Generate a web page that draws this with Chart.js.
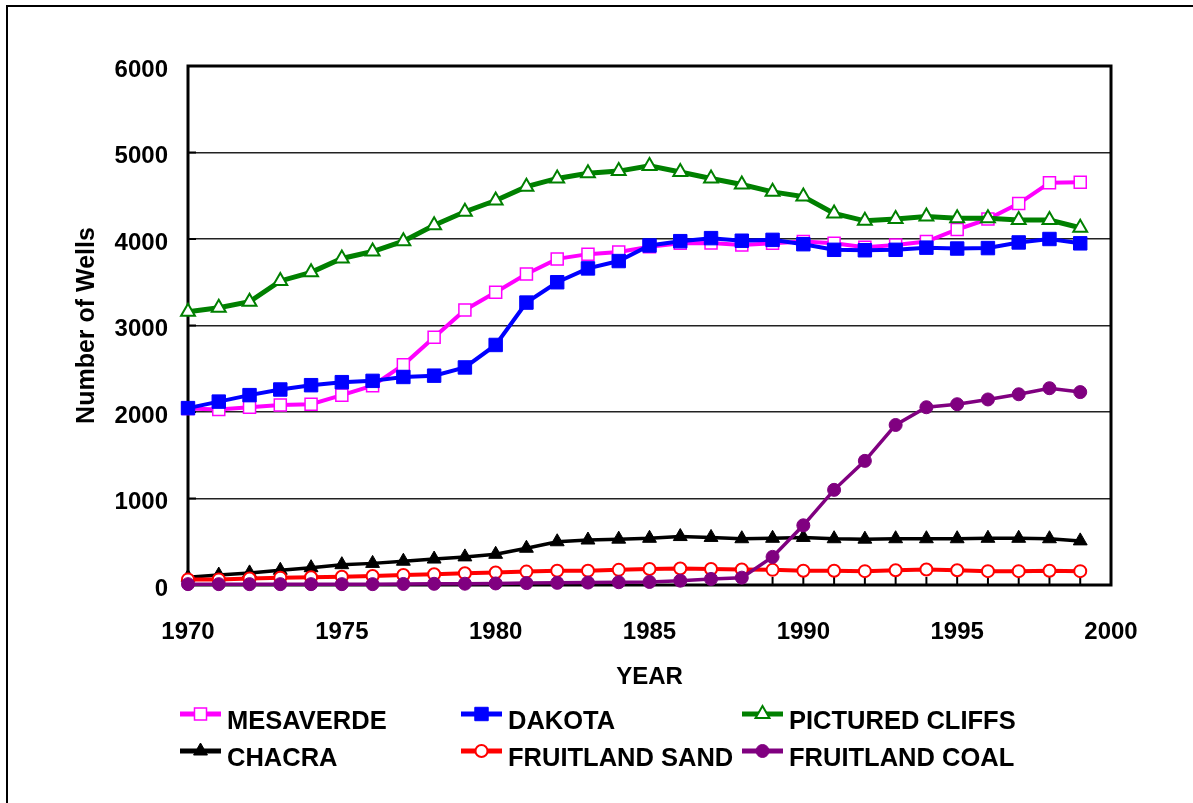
<!DOCTYPE html>
<html>
<head>
<meta charset="utf-8">
<title>Number of Wells by Formation</title>
<script src="https://cdn.jsdelivr.net/npm/chart.js@4.4.1/dist/chart.umd.min.js"></script>
<style>
  html, body { margin: 0; padding: 0; background: #fff; overflow: hidden; }
  canvas { display: block; }
</style>
</head>
<body>
<canvas id="wells-chart" width="1193" height="803"></canvas>
<script>
    // Years 1970 - 1999
    const years = [1970, 1971, 1972, 1973, 1974, 1975, 1976, 1977, 1978, 1979,
                   1980, 1981, 1982, 1983, 1984, 1985, 1986, 1987, 1988, 1989,
                   1990, 1991, 1992, 1993, 1994, 1995, 1996, 1997, 1998, 1999];

    const mesaverde = [2040, 2030, 2055, 2080, 2090, 2195, 2305, 2545, 2865, 3180,
                       3385, 3595, 3770, 3825, 3850, 3910, 3950, 3955, 3930, 3950,
                       3970, 3950, 3905, 3930, 3970, 4110, 4230, 4410, 4650, 4655];

    const dakota = [2045, 2120, 2195, 2260, 2310, 2345, 2360, 2405, 2420, 2515,
                    2775, 3265, 3500, 3660, 3745, 3925, 3975, 4010, 3980, 3990,
                    3940, 3875, 3870, 3875, 3900, 3890, 3895, 3960, 4000, 3950];

    const picturedCliffs = [3160, 3205, 3275, 3515, 3615, 3775, 3855, 3975, 4160, 4315,
                            4445, 4605, 4700, 4760, 4785, 4845, 4775, 4700, 4630, 4545,
                            4490, 4295, 4210, 4230, 4260, 4240, 4240, 4220, 4220, 4130];

    const chacra = [90, 115, 140, 170, 200, 235, 250, 275, 300, 325,
                    355, 425, 500, 520, 530, 540, 560, 550, 535, 540,
                    550, 535, 530, 535, 535, 535, 540, 540, 535, 510];

    const fruitlandSand = [65, 65, 75, 85, 90, 95, 105, 115, 125, 135,
                           145, 155, 165, 165, 175, 185, 190, 185, 180, 175,
                           165, 165, 160, 170, 180, 170, 160, 160, 165, 160];

    const fruitlandCoal = [10, 10, 10, 10, 10, 10, 10, 12, 14, 15,
                           18, 22, 25, 28, 32, 35, 50, 70, 85, 325,
                           690, 1100, 1435, 1850, 2055, 2090, 2145, 2205, 2275, 2230];

    const yTicks = [0, 1000, 2000, 3000, 4000, 5000, 6000];
    const xLabels = [1970, 1975, 1980, 1985, 1990, 1995, 2000];

    const FONT = "'Liberation Sans', Arial, sans-serif";

    function toXY(values) {
        return values.map(function(v, i) { return { x: years[i], y: v }; });
    }

    // legend positions [lineStart, textStart, row]
    const legendSlots = [
        [180, 227, 0], [461, 508, 0], [742, 789, 0],
        [180, 227, 1], [461, 508, 1], [742, 789, 1]
    ];

    const framePlugin = {
        id: 'frame',
        beforeDraw: function(chart) {
            const ctx = chart.ctx;
            ctx.save();
            ctx.fillStyle = '#fff';
            ctx.fillRect(0, 0, chart.width, chart.height);
            // outer chart border (left / top visible)
            ctx.strokeStyle = '#000';
            ctx.lineWidth = 2;
            ctx.strokeRect(7, 6, 1300, 900);
            ctx.restore();
        },
        beforeDatasetsDraw: function(chart) {
            const ctx = chart.ctx;
            const a = chart.chartArea;
            const xs = chart.scales.x;
            const ys = chart.scales.y;
            ctx.save();
            ctx.strokeStyle = '#000';
            // inside tick marks
            ctx.lineWidth = 2;
            years.concat([2000]).forEach(function(yr) {
                const px = xs.getPixelForValue(yr);
                ctx.beginPath();
                ctx.moveTo(px, a.bottom);
                ctx.lineTo(px, a.bottom - 8);
                ctx.stroke();
            });
            yTicks.forEach(function(v) {
                const py = ys.getPixelForValue(v);
                ctx.beginPath();
                ctx.moveTo(a.left, py);
                ctx.lineTo(a.left + 8, py);
                ctx.stroke();
            });
            // plot frame
            ctx.lineWidth = 3;
            ctx.strokeRect(a.left, a.top, a.right - a.left, a.bottom - a.top);
            ctx.restore();
        },
        afterDraw: function(chart) {
            const ctx = chart.ctx;
            const rowY = [714, 751];
            const textY = [722, 759];
            ctx.save();
            chart.data.datasets.forEach(function(ds, i) {
                const slot = legendSlots[i];
                const ly = rowY[slot[2]];
                ctx.strokeStyle = ds.borderColor;
                ctx.lineWidth = 5;
                ctx.beginPath();
                ctx.moveTo(slot[0], ly);
                ctx.lineTo(slot[0] + 41, ly);
                ctx.stroke();
                ctx.fillStyle = ds.pointBackgroundColor;
                ctx.strokeStyle = ds.pointBorderColor;
                ctx.lineWidth = ds.pointBorderWidth;
                Chart.helpers.drawPoint(ctx, {
                    pointStyle: ds.pointStyle,
                    radius: ds.pointRadius,
                    rotation: 0,
                    borderWidth: ds.pointBorderWidth
                }, slot[0] + 20.5, ly);
                ctx.fillStyle = '#000';
                ctx.font = 'bold 25.5px ' + FONT;
                ctx.textAlign = 'left';
                ctx.textBaseline = 'middle';
                ctx.fillText(ds.label, slot[1], textY[slot[2]]);
            });
            ctx.restore();
        }
    };

    function series(label, values, color, style, radius, fill, lineWidth, pbw, order) {
        return {
            label: label,
            data: toXY(values),
            borderColor: color,
            backgroundColor: color,
            borderWidth: lineWidth,
            pointStyle: style,
            pointRadius: radius,
            pointHoverRadius: radius,
            pointBackgroundColor: fill,
            pointBorderColor: color,
            pointBorderWidth: pbw,
            tension: 0,
            clip: false,
            order: order
        };
    }

    const ctx = document.getElementById('wells-chart').getContext('2d');

    new Chart(ctx, {
        type: 'line',
        data: {
            datasets: [
                series('MESAVERDE', mesaverde, '#FF00FF', 'rect', 8.5, '#FFFFFF', 4, 1.5, 6),
                series('DAKOTA', dakota, '#0000FF', 'rect', 9.5, '#0000FF', 4, 1, 5),
                series('PICTURED CLIFFS', picturedCliffs, '#008000', 'triangle', 8, '#FFFFFF', 5, 2, 4),
                series('CHACRA', chacra, '#000000', 'triangle', 8, '#000000', 3.5, 1, 3),
                series('FRUITLAND SAND', fruitlandSand, '#FF0000', 'circle', 6, '#FFFFFF', 4, 2, 2),
                series('FRUITLAND COAL', fruitlandCoal, '#800080', 'circle', 6.5, '#800080', 3.5, 1, 1)
            ]
        },
        options: {
            responsive: false,
            animation: false,
            events: [],
            layout: {
                padding: { left: 0, top: 66, right: 82, bottom: 0 }
            },
            plugins: {
                legend: { display: false },
                tooltip: { enabled: false }
            },
            scales: {
                x: {
                    type: 'linear',
                    min: 1970,
                    max: 2000,
                    afterFit: function(scale) { scale.height = 218; },
                    afterBuildTicks: function(scale) {
                        scale.ticks = years.concat([2000]).map(function(v) { return { value: v }; });
                    },
                    grid: { display: false, drawTicks: false },
                    border: { display: false },
                    ticks: {
                        autoSkip: false,
                        maxRotation: 0,
                        padding: 33,
                        color: '#000',
                        font: { family: FONT, size: 24, weight: 'bold' },
                        callback: function(value) {
                            return xLabels.indexOf(value) >= 0 ? String(value) : '';
                        }
                    },
                    title: {
                        display: true,
                        text: 'YEAR',
                        color: '#000',
                        font: { family: FONT, size: 24, weight: 'bold' },
                        padding: { top: 0, bottom: 111 }
                    }
                },
                y: {
                    min: 0,
                    max: 6000,
                    afterFit: function(scale) { scale.width = 188; },
                    afterBuildTicks: function(scale) {
                        scale.ticks = yTicks.map(function(v) { return { value: v }; });
                    },
                    grid: {
                        color: '#222',
                        lineWidth: 1.5,
                        drawTicks: false
                    },
                    border: { display: false },
                    ticks: {
                        padding: 20,
                        labelOffset: 4,
                        color: '#000',
                        font: { family: FONT, size: 24, weight: 'bold' },
                        callback: function(value) { return String(value); }
                    },
                    title: {
                        display: true,
                        text: 'Number of Wells',
                        color: '#000',
                        font: { family: FONT, size: 25, weight: 'bold' },
                        padding: { top: 72, bottom: 0 }
                    }
                }
            }
        },
        plugins: [framePlugin]
    });
</script>
</body>
</html>
